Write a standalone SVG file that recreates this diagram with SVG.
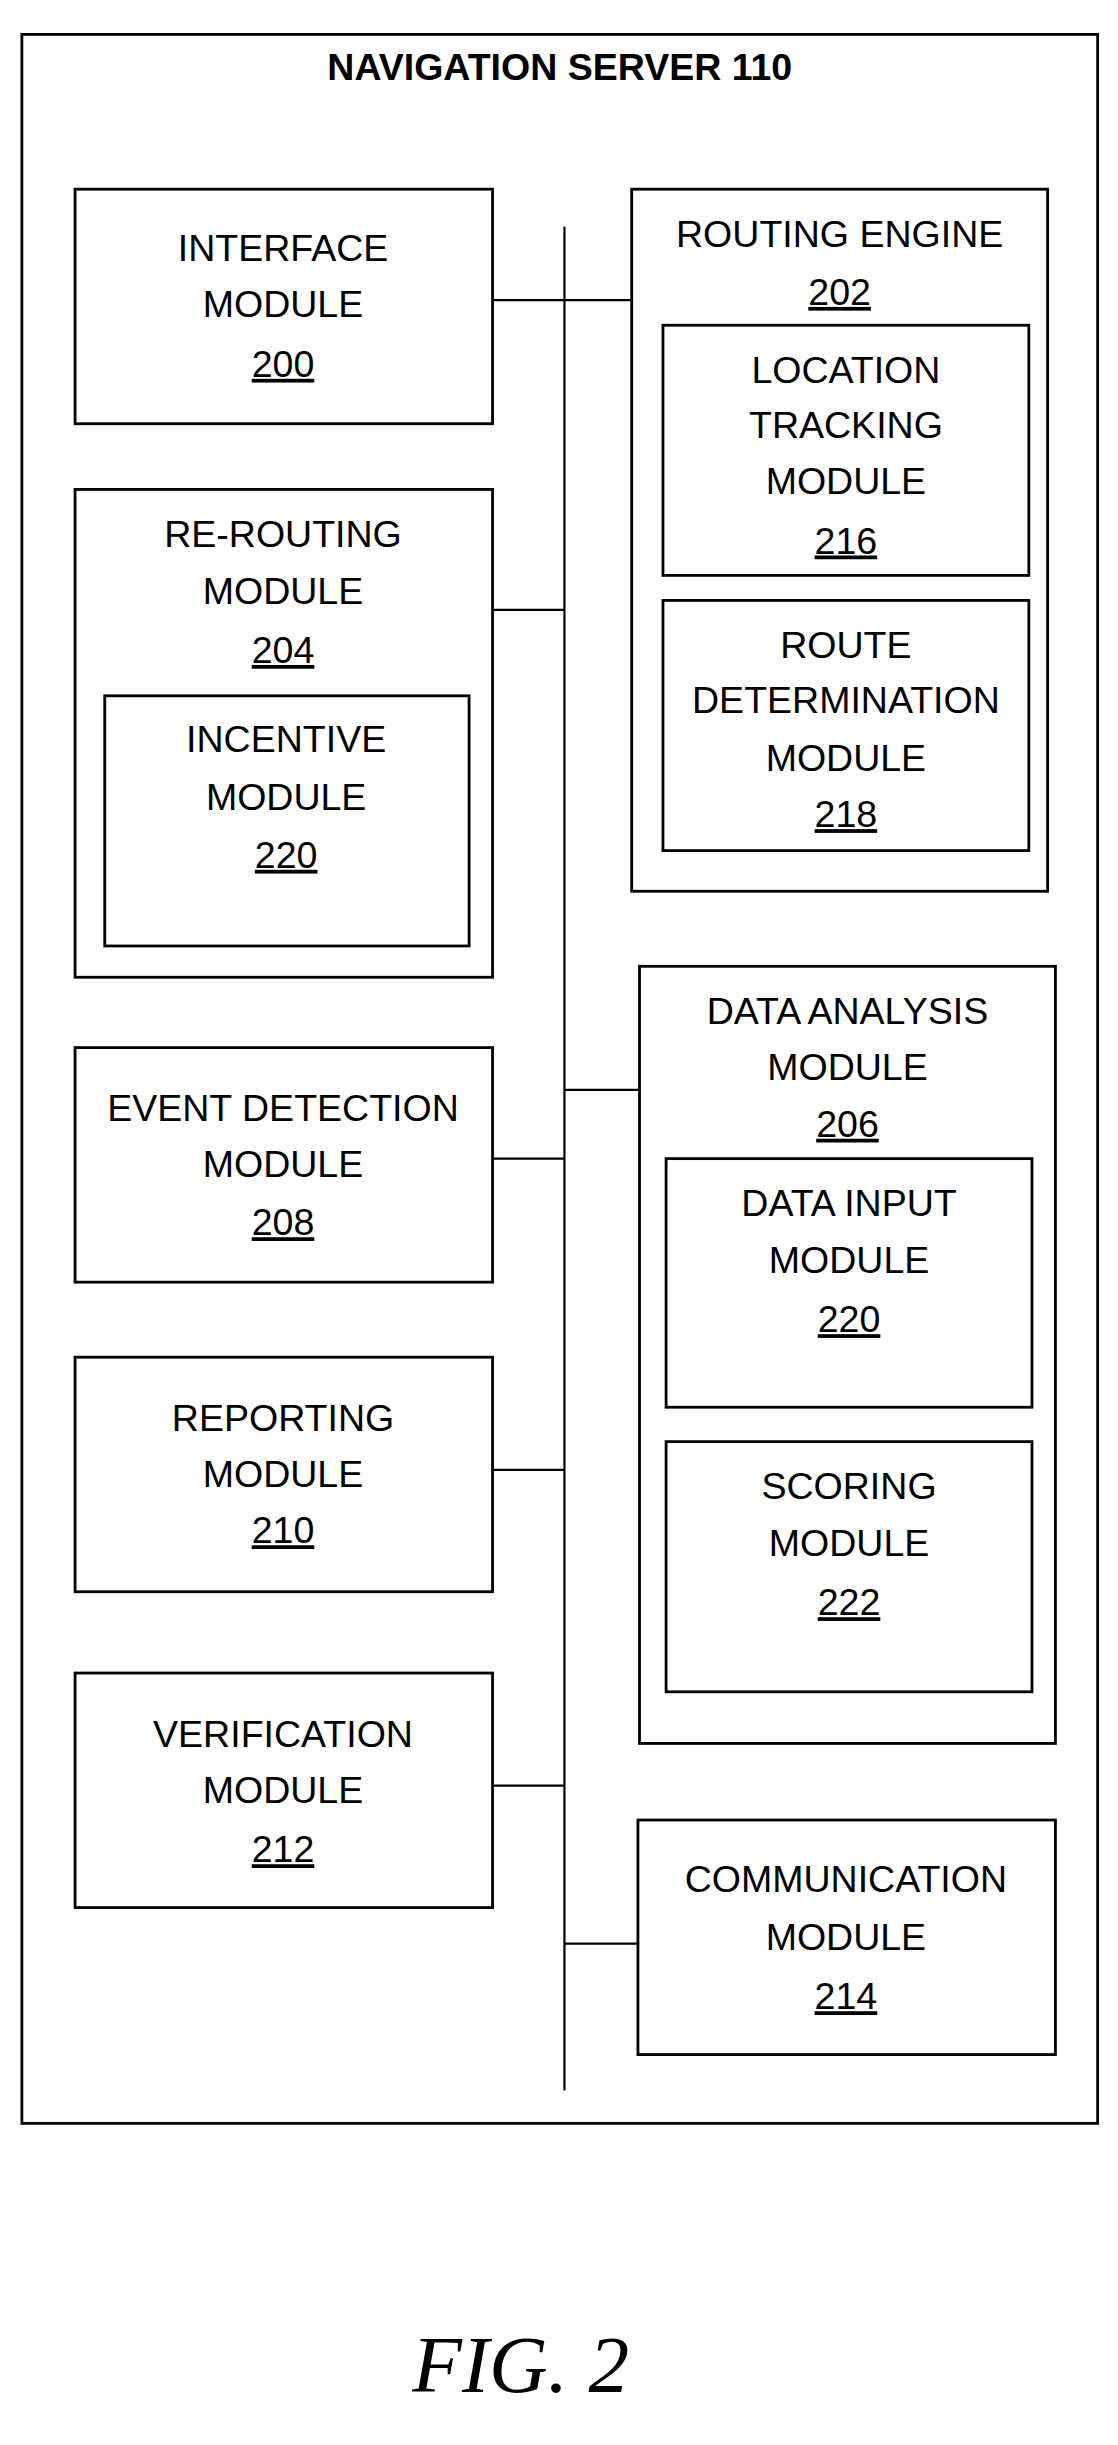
<svg xmlns="http://www.w3.org/2000/svg" width="1118" height="2445" viewBox="0 0 1118 2445">
<style>
rect{fill:none;stroke:#000;stroke-width:1.8}
line{stroke:#000;stroke-width:1.4}
text{font-family:"Liberation Sans",Arial,sans-serif;font-size:24px;text-anchor:middle;fill:#000}
.u{text-decoration:underline}
.t{font-weight:bold;font-size:24px}
.fig{font-family:"Liberation Serif","Times New Roman",serif;font-style:italic;font-size:52px}
</style>
<rect x="0" y="0" width="1118" height="2445" style="fill:#fff;stroke:none"/>
<g transform="scale(1.5636)">
<g id="server"><rect x="14" y="22" width="688" height="1336"/><text class="t" x="358" y="51">NAVIGATION SERVER 110</text></g>
<g id="connectors">
<line x1="361" y1="145" x2="361" y2="1337"/>
<line x1="315" y1="192" x2="404" y2="192"/>
<line x1="315" y1="390" x2="361" y2="390"/>
<line x1="361" y1="697" x2="409" y2="697"/>
<line x1="315" y1="741" x2="361" y2="741"/>
<line x1="315" y1="940" x2="361" y2="940"/>
<line x1="315" y1="1142" x2="361" y2="1142"/>
<line x1="361" y1="1243" x2="408" y2="1243"/>
</g>
<g id="n200"><rect x="48" y="121" width="267" height="150"/><text x="181" y="167">INTERFACE</text><text x="181" y="203">MODULE</text><text class="u" x="181" y="241">200</text></g>
<g id="n202"><rect x="404" y="121" width="266" height="449"/><text x="537" y="158">ROUTING ENGINE</text><text class="u" x="537" y="195">202</text></g>
<g id="n216"><rect x="424" y="208" width="234" height="160"/><text x="541" y="245">LOCATION</text><text x="541" y="280">TRACKING</text><text x="541" y="316">MODULE</text><text class="u" x="541" y="354">216</text></g>
<g id="n218"><rect x="424" y="384" width="234" height="160"/><text x="541" y="421">ROUTE</text><text x="541" y="456">DETERMINATION</text><text x="541" y="493">MODULE</text><text class="u" x="541" y="529">218</text></g>
<g id="n204"><rect x="48" y="313" width="267" height="312"/><text x="181" y="350">RE-ROUTING</text><text x="181" y="386">MODULE</text><text class="u" x="181" y="424">204</text></g>
<g id="n220a"><rect x="67" y="445" width="233" height="160"/><text x="183" y="481">INCENTIVE</text><text x="183" y="518">MODULE</text><text class="u" x="183" y="555">220</text></g>
<g id="n206"><rect x="409" y="618" width="266" height="497"/><text x="542" y="655">DATA ANALYSIS</text><text x="542" y="691">MODULE</text><text class="u" x="542" y="727">206</text></g>
<g id="n220b"><rect x="426" y="741" width="234" height="159"/><text x="543" y="778">DATA INPUT</text><text x="543" y="814">MODULE</text><text class="u" x="543" y="852">220</text></g>
<g id="n222"><rect x="426" y="922" width="234" height="160"/><text x="543" y="959">SCORING</text><text x="543" y="995">MODULE</text><text class="u" x="543" y="1033">222</text></g>
<g id="n208"><rect x="48" y="670" width="267" height="150"/><text x="181" y="717">EVENT DETECTION</text><text x="181" y="753">MODULE</text><text class="u" x="181" y="790">208</text></g>
<g id="n210"><rect x="48" y="868" width="267" height="150"/><text x="181" y="915">REPORTING</text><text x="181" y="951">MODULE</text><text class="u" x="181" y="987">210</text></g>
<g id="n212"><rect x="48" y="1070" width="267" height="150"/><text x="181" y="1117">VERIFICATION</text><text x="181" y="1153">MODULE</text><text class="u" x="181" y="1191">212</text></g>
<g id="n214"><rect x="408" y="1164" width="267" height="150"/><text x="541" y="1210">COMMUNICATION</text><text x="541" y="1247">MODULE</text><text class="u" x="541" y="1285">214</text></g>
<text class="fig" x="333" y="1530">FIG. 2</text>
</g>
</svg>
